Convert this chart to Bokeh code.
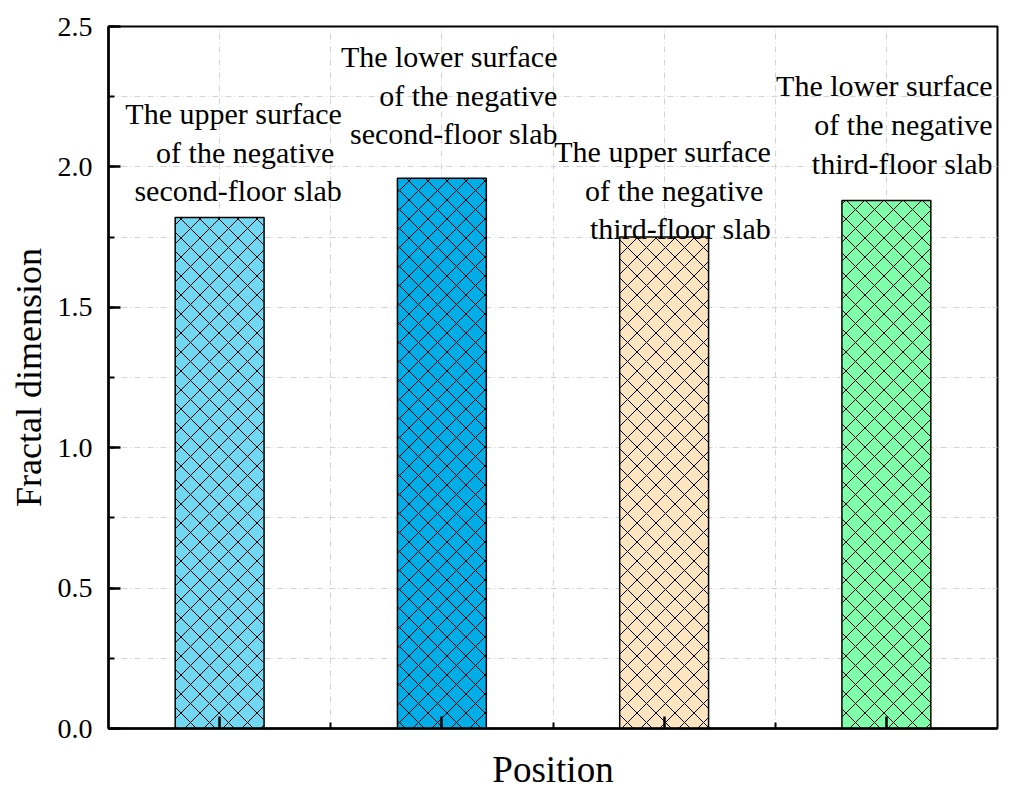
from bokeh.plotting import figure
from bokeh.models import Range1d, FixedTicker, SingleIntervalTicker, ColumnDataSource, CustomJSTickFormatter
from bokeh.core.properties import value
from bokeh.embed import file_html
from bokeh.resources import INLINE

# ---- data ----
positions = [1, 2, 3, 4]
fractal_dimension = [1.82, 1.96, 1.75, 1.88]
bar_labels = [
    "The upper surface\nof  the negative\nsecond-floor slab",
    "The lower surface\nof the negative\nsecond-floor slab",
    "The upper surface\nof  the negative\nthird-floor slab",
    "The lower surface\nof the negative\nthird-floor slab",
]
bar_colors = ["#72d8f2", "#00ade6", "#fae5c0", "#80ffaa"]

# annotation anchors (right edge, vertical middle), data units
label_x = [1.55, 2.52, 3.48, 4.478]
label_y = [2.052, 2.255, 1.917, 2.151]

FONT = "Liberation Serif"

p = figure(width=1004, height=792, output_backend="svg", toolbar_location=None,
           x_range=Range1d(0.5, 4.5), y_range=Range1d(0, 2.5),
           min_border_left=108, min_border_top=26, min_border_right=7,
           min_border_bottom=61)
p.background_fill_color = "white"
p.border_fill_color = "white"
p.outline_line_color = "black"
p.outline_line_width = 2

src = ColumnDataSource(dict(x=positions, top=fractal_dimension, color=bar_colors))
p.vbar(x="x", top="top", width=0.4, source=src, fill_color="color",
       line_color="black", line_width=1.5,
       hatch_pattern="x", hatch_scale=19, hatch_color="black", hatch_alpha=1.0,
       hatch_weight=1.0)

tsrc = ColumnDataSource(dict(x=label_x, y=label_y, text=bar_labels))
p.text(x="x", y="y", text="text", source=tsrc, text_align="right",
       text_baseline="middle", text_font=value(FONT), text_font_size="30px",
       text_line_height=1.17, text_color="black")

# x axis
p.xaxis.ticker = FixedTicker(ticks=positions, minor_ticks=[1.5, 2.5, 3.5])
p.xaxis.major_label_overrides = {k: "" for k in positions}
p.xaxis.axis_label = "Position"
p.xaxis.axis_label_text_font = FONT
p.xaxis.axis_label_text_font_size = "37px"
p.xaxis.axis_label_text_font_style = "normal"
p.xaxis.axis_label_standoff = 20
p.xaxis.major_label_standoff = 0

# y axis
p.yaxis.ticker = SingleIntervalTicker(interval=0.5, num_minor_ticks=2)
p.yaxis.formatter = CustomJSTickFormatter(code="return tick.toFixed(1);")
p.yaxis.axis_label = "Fractal dimension"
p.yaxis.axis_label_text_font = FONT
p.yaxis.axis_label_text_font_size = "36px"
p.yaxis.axis_label_text_font_style = "normal"
p.yaxis.axis_label_standoff = 6
p.yaxis.major_label_text_font = FONT
p.yaxis.major_label_text_font_size = "28px"
p.yaxis.major_label_standoff = 16

for ax in (p.xaxis, p.yaxis):
    ax.axis_line_width = 2.5
    ax.axis_line_color = "black"
    ax.major_tick_in = 12
    ax.major_tick_out = 0
    ax.minor_tick_in = 6
    ax.minor_tick_out = 0
    ax.major_tick_line_width = 2.5
    ax.minor_tick_line_width = 2
    ax.major_tick_line_color = "black"
    ax.minor_tick_line_color = "black"
    ax.major_label_text_color = "black"
    ax.axis_label_text_color = "black"

# grids
p.xgrid.ticker = FixedTicker(ticks=[1, 1.5, 2, 2.5, 3, 3.5, 4])
p.ygrid.ticker = FixedTicker(ticks=[0.25, 0.5, 0.75, 1.0, 1.25, 1.5, 1.75, 2.0, 2.25])
for g in (p.xgrid, p.ygrid):
    g.grid_line_color = "#d4d4d4"
    g.grid_line_dash = "6 3 1 3"
    g.grid_line_width = 1

open("out.html", "w").write(file_html(p, INLINE))
